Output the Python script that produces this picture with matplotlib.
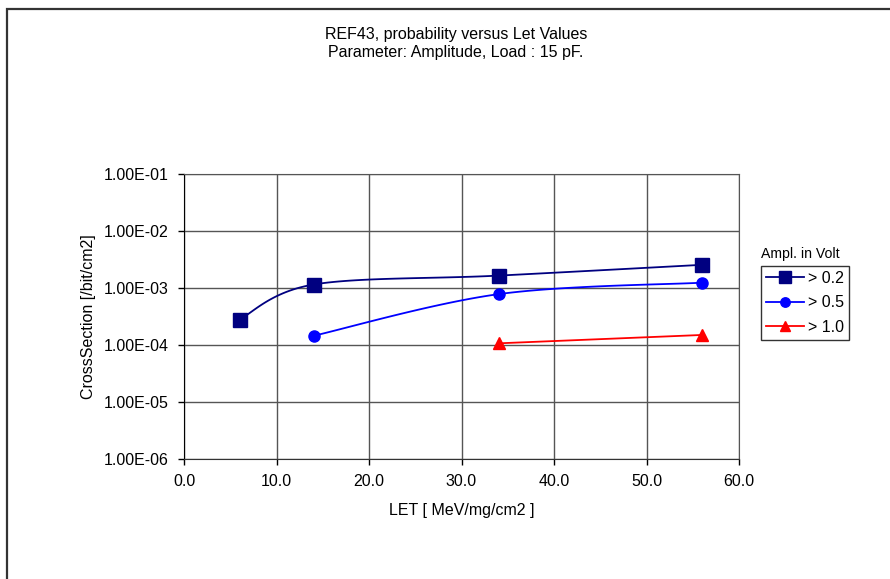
import numpy as np
import matplotlib
matplotlib.use('Agg')
import matplotlib.pyplot as plt
from matplotlib.lines import Line2D
from matplotlib.patches import Rectangle

plt.rcParams['font.family'] = ['Liberation Sans', 'DejaVu Sans']

# data
let_02 = [6.0, 14.0, 34.0, 56.0]
xs_02 = [2.8e-4, 1.15e-3, 1.65e-3, 2.55e-3]
let_05 = [14.0, 34.0, 56.0]
xs_05 = [1.45e-4, 7.8e-4, 1.24e-3]
let_10 = [34.0, 56.0]
xs_10 = [1.07e-4, 1.5e-4]
labels = ['> 0.2', '> 0.5', '> 1.0']
colors = ['#000080', '#0000FF', '#FF0000']
markers = ['s', 'o', '^']
msizes = [9.6, 8, 9]
yticks = [1e-6, 1e-5, 1e-4, 1e-3, 1e-2, 1e-1]
xticks = [0, 10, 20, 30, 40, 50, 60]

FS = 11.5


def smooth(x, y, n=30):
    # Catmull-Rom through points in screen-like space (x linear, log y)
    sx = np.asarray(x) / 60.0 * 556
    sy = np.log10(y) / 5.0 * 285
    pts = np.column_stack([sx, sy])
    if len(pts) < 3:
        return np.asarray(x), np.asarray(y)
    p = np.vstack([pts[0], pts, pts[-1]])
    out = []
    for i in range(1, len(p) - 2):
        p0, p1, p2, p3 = p[i - 1], p[i], p[i + 1], p[i + 2]
        t = np.linspace(0, 1, n)[:, None]
        c = 0.5 * ((2 * p1) + (-p0 + p2) * t + (2 * p0 - 5 * p1 + 4 * p2 - p3) * t ** 2
                   + (-p0 + 3 * p1 - 3 * p2 + p3) * t ** 3)
        out.append(c)
    c = np.vstack(out)
    return c[:, 0] / 556 * 60.0, 10 ** (c[:, 1] / 285 * 5.0)


fig = plt.figure(figsize=(8.9, 5.79), dpi=100)
fig.patches.append(Rectangle((6.5 / 890, -0.1), 1.2, 1 - 8.5 / 579 + 0.1, transform=fig.transFigure,
                             fill=False, edgecolor='#333333', linewidth=1.6))
ax = fig.add_axes([184 / 890, 1 - 459 / 579, (739 - 184) / 890, (459 - 174) / 579])

series = [(let_02, xs_02), (let_05, xs_05), (let_10, xs_10)]
for (x, y), c, m, ms in zip(series, colors, markers, msizes):
    cx, cy = smooth(x, y)
    ax.plot(cx, cy, color=c, linewidth=1.3, zorder=3)
    ax.plot(x, y, linestyle='none', marker=m, markersize=ms, color=c, zorder=4)

ax.set_yscale('log')
ax.set_xlim(0, 60)
ax.set_ylim(1e-6, 1e-1)
ax.set_yticks(yticks)
ax.set_yticklabels(['%.2E' % v for v in yticks])
ax.yaxis.set_minor_locator(matplotlib.ticker.NullLocator())
ax.set_xticks(xticks)
ax.set_xticklabels(['%.1f' % v for v in xticks])
ax.tick_params(axis='both', labelsize=FS, length=4, width=1, direction='out', colors='black')
ax.tick_params(axis='y', pad=7)
ax.tick_params(axis='x', pad=7)
ax.grid(True, color='#555555', linewidth=1)
for s in ax.spines.values():
    s.set_color('#555555')
ax.spines['left'].set_color('black')
ax.spines['bottom'].set_color('#333333')

ax.set_xlabel('LET [ MeV/mg/cm2 ]', fontsize=FS)
ax.xaxis.set_label_coords(0.5, (459 - 510) / 285)
ax.xaxis.label.set_va('center')
ax.set_ylabel('CrossSection [/bit/cm2]', fontsize=FS)
ax.yaxis.set_label_coords((88 - 184) / 555, 0.5)
ax.yaxis.label.set_va('center')

fig.text(456 / 890, 1 - 35 / 579, 'REF43, probability versus Let Values', ha='center', va='center', fontsize=FS)
fig.text(456 / 890, 1 - 52 / 579, 'Parameter: Amplitude, Load : 15 pF.', ha='center', va='center', fontsize=FS)

handles = [Line2D([], [], color=c, marker=m, markersize=ms * 0.85, linewidth=1.3)
           for c, m, ms in zip(colors, markers, msizes)]
leg = fig.legend(handles, labels, loc='upper left', bbox_to_anchor=(761 / 890, 1 - 266 / 579),
                 fontsize=FS, frameon=True, fancybox=False, edgecolor='black', handlelength=2.4,
                 handletextpad=0.25, borderpad=0.3, labelspacing=0.6, borderaxespad=0)
leg.get_frame().set_linewidth(1)
fig.text(800 / 890, 1 - 254 / 579, 'Ampl. in Volt', ha='center', va='center', fontsize=10.2)

fig.savefig('out.png', dpi=100)
